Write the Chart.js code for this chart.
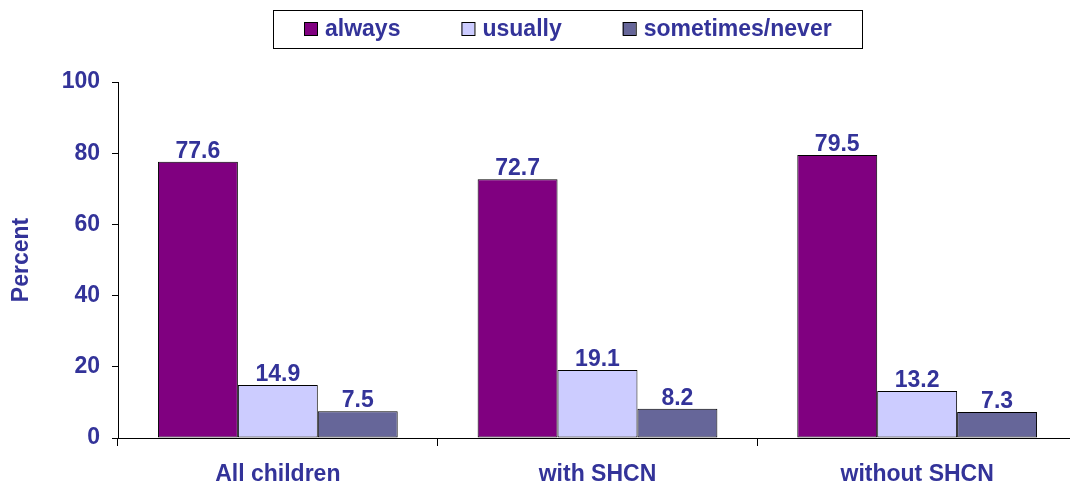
<!DOCTYPE html>
<html>
<head>
<meta charset="utf-8">
<script src="https://cdn.jsdelivr.net/npm/chart.js@4/dist/chart.umd.min.js"></script>
<style>
  html, body { margin: 0; padding: 0; background: #fff; overflow: hidden; }
  #wrap { width: 1077px; height: 485px; }
</style>
</head>
<body>
<div id="wrap"><canvas id="myChart"></canvas></div>
<script>
var categories = ['All children', 'with SHCN', 'without SHCN'];
var seriesNames = ['always', 'usually', 'sometimes/never'];
var alwaysValues = [77.6, 72.7, 79.5];
var usuallyValues = [14.9, 19.1, 13.2];
var sometimesValues = [7.5, 8.2, 7.3];
var yTicks = [0, 20, 40, 60, 80, 100];

var textColor = '#333399';
var barColors = ['#800080', '#CCCCFF', '#666699'];
var fontFamily = 'Arial, "Liberation Sans", sans-serif';

// legend in a box, drawn by hand so it sits where the original one does
var boxLegend = {
    id: 'boxLegend',
    afterDraw: function (chart) {
        var c = chart.ctx;
        c.save();
        c.fillStyle = '#fff';
        c.fillRect(273, 10, 589, 38);
        c.strokeStyle = '#000';
        c.lineWidth = 1;
        c.strokeRect(273.5, 10.5, 589, 38);
        c.font = 'bold 23px ' + fontFamily;
        c.textBaseline = 'middle';
        var x = 304;
        chart.data.datasets.forEach(function (ds) {
            c.fillStyle = ds.backgroundColor;
            c.fillRect(x, 22, 13, 13);
            c.strokeStyle = '#000';
            c.strokeRect(x + 0.5, 22.5, 13, 13);
            c.fillStyle = textColor;
            c.fillText(ds.label, x + 21, 30);
            x += 21 + c.measureText(ds.label).width + 61;
        });
        c.restore();
    }
};

var valueLabels = {
    id: 'valueLabels',
    afterDatasetsDraw: function (chart) {
        var c = chart.ctx;
        c.save();
        c.font = 'bold 23px ' + fontFamily;
        c.fillStyle = textColor;
        c.textAlign = 'center';
        c.textBaseline = 'alphabetic';
        chart.data.datasets.forEach(function (ds, i) {
            chart.getDatasetMeta(i).data.forEach(function (bar, j) {
                c.fillText(ds.data[j].toFixed(1), bar.x, bar.y - 4);
            });
        });
        c.restore();
    }
};

var ctx = document.getElementById('myChart').getContext('2d');

var myChart = new Chart(ctx, {
    type: 'bar',
    data: {
        labels: categories,
        datasets: [{
            label: seriesNames[0],
            data: alwaysValues,
            backgroundColor: barColors[0],
            borderColor: '#000',
            borderWidth: 1,
            borderSkipped: false
        },
        {
            label: seriesNames[1],
            data: usuallyValues,
            backgroundColor: barColors[1],
            borderColor: '#000',
            borderWidth: 1,
            borderSkipped: false
        },
        {
            label: seriesNames[2],
            data: sometimesValues,
            backgroundColor: barColors[2],
            borderColor: '#000',
            borderWidth: 1,
            borderSkipped: false
        }]
    },
    options: {
        responsive: true,
        maintainAspectRatio: false,
        animation: false,
        categoryPercentage: 0.75,
        barPercentage: 1,
        layout: { padding: { top: 82, left: 0, right: 0, bottom: 0 } },
        plugins: {
            legend: { display: false },
            tooltip: { enabled: false }
        },
        scales: {
            x: {
                grid: {
                    offset: true,
                    drawOnChartArea: false,
                    tickLength: 8,
                    color: '#000'
                },
                border: { color: '#000', width: 1 },
                ticks: {
                    color: textColor,
                    font: { family: fontFamily, size: 23, weight: 'bold' },
                    padding: 15
                },
                afterFit: function (scale) { scale.height = 47; }
            },
            y: {
                min: 0,
                max: 100,
                afterBuildTicks: function (scale) {
                    scale.ticks = yTicks.map(function (v) { return { value: v }; });
                },
                grid: {
                    drawOnChartArea: false,
                    tickLength: 6,
                    color: '#000'
                },
                border: { color: '#000', width: 1 },
                ticks: {
                    color: textColor,
                    font: { family: fontFamily, size: 23, weight: 'bold' },
                    padding: 12
                },
                title: {
                    display: true,
                    text: 'Percent',
                    color: textColor,
                    font: { family: fontFamily, size: 23, weight: 'bold' },
                    padding: { top: 8, bottom: 0 }
                },
                afterFit: function (scale) { scale.width = 118; }
            }
        }
    },
    plugins: [valueLabels, boxLegend]
});
</script>
</body>
</html>
